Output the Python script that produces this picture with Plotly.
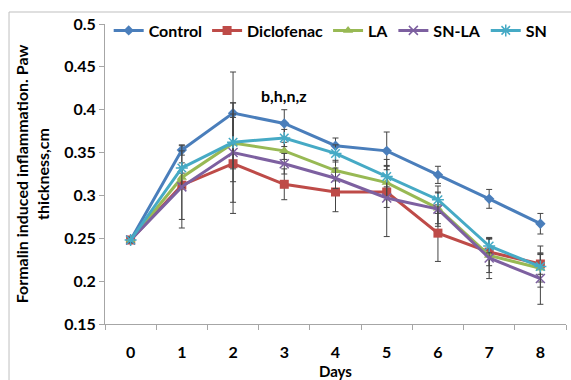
import plotly.graph_objects as go

days = [0, 1, 2, 3, 4, 5, 6, 7, 8]
day_labels = ["0", "1", "2", "3", "4", "5", "6", "7", "8"]

control = [0.248, 0.353, 0.396, 0.384, 0.358, 0.352, 0.324, 0.296, 0.267]
diclofenac = [0.248, 0.312, 0.337, 0.313, 0.304, 0.304, 0.256, 0.234, 0.220]
la = [0.248, 0.321, 0.361, 0.352, 0.329, 0.315, 0.285, 0.230, 0.215]
sn_la = [0.248, 0.310, 0.350, 0.337, 0.320, 0.297, 0.284, 0.227, 0.203]
sn = [0.248, 0.332, 0.362, 0.367, 0.349, 0.322, 0.295, 0.241, 0.217]

control_err = [0.003, 0.006, 0.048, 0.016, 0.009, 0.022, 0.010, 0.011, 0.012]
diclofenac_err = [0.003, 0.040, 0.058, 0.018, 0.023, 0.018, 0.033, 0.016, 0.012]
la_err = [0.003, 0.012, 0.030, 0.010, 0.012, 0.020, 0.018, 0.020, 0.016]
sn_la_err = [0.003, 0.048, 0.058, 0.012, 0.012, 0.045, 0.020, 0.024, 0.030]
sn_err = [0.003, 0.006, 0.046, 0.010, 0.010, 0.012, 0.016, 0.008, 0.024]

y_ticks = [0.15, 0.2, 0.25, 0.3, 0.35, 0.4, 0.45, 0.5]
y_tick_labels = ["0.15", "0.2", "0.25", "0.3", "0.35", "0.4", "0.45", "0.5"]

series = [
    ("Control", control, control_err, "#4A7EBB", "diamond", 8),
    ("Diclofenac", diclofenac, diclofenac_err, "#BE4B48", "square", 9),
    ("LA", la, la_err, "#98B954", "triangle-up", 9),
    ("SN-LA", sn_la, sn_la_err, "#7D60A0", "x-thin", 9),
    ("SN", sn, sn_err, "#46AAC5", "asterisk", 10),
]

fig = go.Figure()
for name, vals, errs, color, sym, size in series:
    marker = dict(symbol=sym, size=size, color=color, line=dict(color=color, width=0))
    if sym in ("x-thin", "asterisk"):
        marker["line"] = dict(color=color, width=1.5)
    fig.add_trace(go.Scatter(
        x=days, y=vals, name=name, mode="lines+markers",
        line=dict(color=color, width=3),
        marker=marker,
        error_y=dict(type="data", array=errs, visible=True,
                     color="#444444", thickness=1, width=3),
    ))

fig.add_annotation(x=3, y=0.417, text="b,h,n,z", showarrow=False,
                   font=dict(size=16, weight="bold", color="black"))

# x-axis title placed as annotation so it sits below tick labels
fig.add_annotation(xref="paper", yref="paper", x=0.5, y=-0.155,
                   yanchor="middle", text="Days", showarrow=False,
                   font=dict(size=15, weight="bold", color="black"))

# outer chart frame
fig.add_shape(type="rect", xref="paper", yref="paper",
              x0=-0.2082, x1=1.03, y0=-0.25, y1=1.04,
              line=dict(color="#BFBFBF", width=1), layer="below")

fig.update_layout(
    width=571, height=380,
    margin=dict(l=105, r=5, t=24, b=56),
    paper_bgcolor="white", plot_bgcolor="white",
    font=dict(family="Lato", size=16, weight="bold", color="black"),
    showlegend=True,
    legend=dict(orientation="h", x=0.008, y=1.035, xanchor="left", yanchor="top",
                bgcolor="rgba(0,0,0,0)", font=dict(size=16, weight="bold"),
                itemwidth=30, tracegroupgap=0),
    xaxis=dict(range=[-0.5, 8.5], tickvals=days, ticktext=day_labels,
               ticks="", showline=True, linecolor="#A6A6A6", linewidth=1,
               showgrid=False, zeroline=False, ticklabelstandoff=14,
               minor=dict(ticks="outside", tick0=-0.5, dtick=1, ticklen=5,
                          tickcolor="#A6A6A6", showgrid=False)),
    yaxis=dict(range=[0.15, 0.5], tickvals=y_ticks, ticktext=y_tick_labels,
               ticks="outside", ticklen=5, tickcolor="#A6A6A6",
               showline=True, linecolor="#A6A6A6", linewidth=1,
               showgrid=False, zeroline=False,
               title=dict(text="Formalin induced inflammation. Paw<br>thickness,cm",
                          standoff=10, font=dict(size=16, weight="bold"))),
)

fig.write_html("out.html")
